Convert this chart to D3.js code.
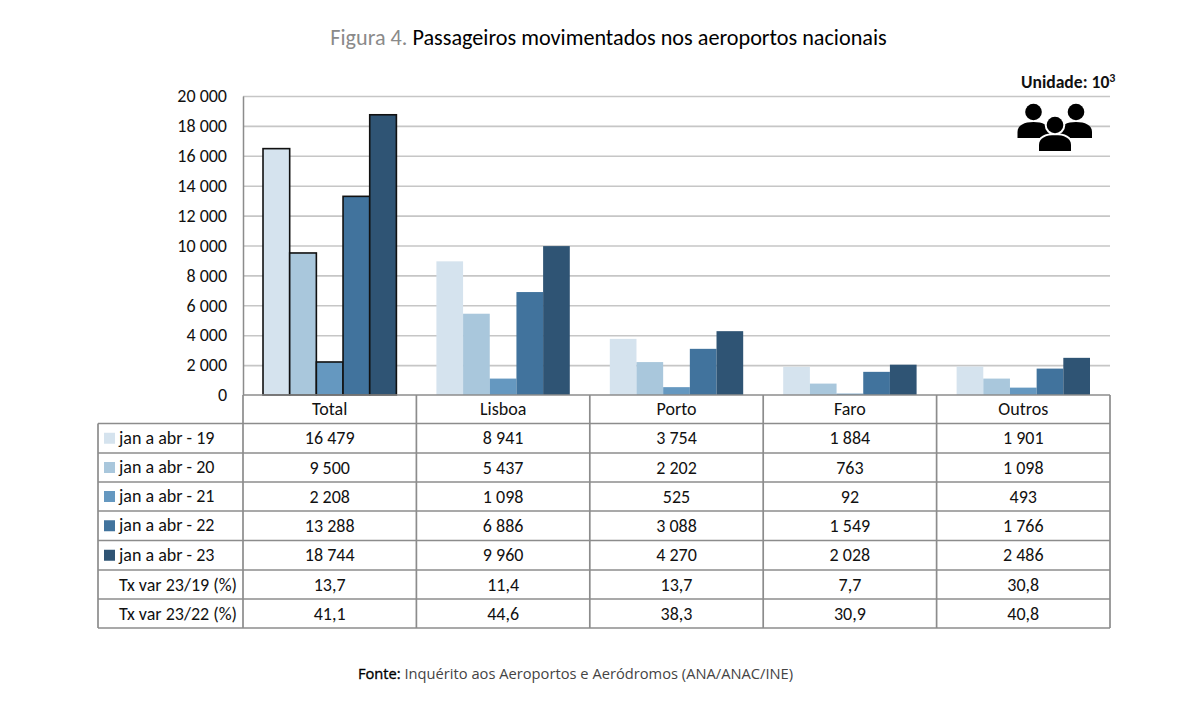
<!DOCTYPE html>
<html><head><meta charset="utf-8">
<script src="https://cdn.jsdelivr.net/npm/d3@7/dist/d3.min.js"></script>
<style>html,body{margin:0;padding:0;background:#fff}svg{display:block}text{font-family:Carlito,Lato,"Open Sans",sans-serif}</style>
</head><body><svg id="c" width="1200" height="713"></svg>
<script>
const categories = ["Total","Lisboa","Porto","Faro","Outros"];
const seriesNames = ["jan a abr - 19","jan a abr - 20","jan a abr - 21","jan a abr - 22","jan a abr - 23"];
const v19 = [16479,8941,3754,1884,1901];
const v20 = [9500,5437,2202,763,1098];
const v21 = [2208,1098,525,92,493];
const v22 = [13288,6886,3088,1549,1766];
const v23 = [18744,9960,4270,2028,2486];
const seriesValues = [v19,v20,v21,v22,v23];
const colors = ["#d5e3ee","#a9c7dc","#6598c0","#41739d","#2f5474"];
const rateNames = ["Tx var 23/19 (%)","Tx var 23/22 (%)"];
const rate1 = ["13,7","11,4","13,7","7,7","30,8"];
const rate2 = ["41,1","44,6","38,3","30,9","40,8"];
const yTicks = [0,2000,4000,6000,8000,10000,12000,14000,16000,18000,20000];

const fmt = n => String(n).replace(/\B(?=(\d{3})+$)/g," ");
const svg = d3.select("#c");
const L=243,R=1110,T=96,B=395,TL=98;
const rowY=[395,423.5,453,482,511,540.5,570,599,628];
const grid="#c6c6c6", tbl="#8c8c8c", ink="#111";

const y=d3.scaleLinear().domain([0,20000]).range([B,T]);
const x0=d3.scaleBand().domain(categories).range([L,R]).padding(0);
const x1=d3.scaleBand().domain(seriesNames).range([0,x0.bandwidth()]).paddingInner(0).paddingOuter(0.75);

// title
const t=svg.append("text").attr("x",608.5).attr("y",45).attr("text-anchor","middle").attr("font-size",22.2);
t.append("tspan").attr("fill","#8a8a8a").text("Figura 4. ");
t.append("tspan").attr("fill","#000").text("Passageiros movimentados nos aeroportos nacionais");

// grid
svg.append("g").selectAll("line").data(yTicks.filter(d=>d>0)).join("line")
 .attr("x1",L).attr("x2",R).attr("y1",d=>y(d)+.5).attr("y2",d=>y(d)+.5)
 .attr("stroke",grid).attr("stroke-width",1.6);

// y axis
const ax=svg.append("g").attr("transform",`translate(${L},0)`)
 .call(d3.axisLeft(y).tickValues(yTicks).tickFormat(fmt).tickSize(0).tickPadding(16));
ax.select(".domain").attr("stroke",tbl).attr("stroke-width",1.5);
ax.selectAll("text").attr("font-size",18).attr("fill",ink).style("font-family","Carlito,Lato,sans-serif");

// bars
svg.append("g").selectAll("g").data(seriesNames).join("g").each(function(s,si){
  d3.select(this).selectAll("rect").data(seriesValues[si]).join("rect")
   .attr("x",(d,i)=>x0(categories[i])+x1(s))
   .attr("width",x1.bandwidth())
   .attr("y",d=>y(d)).attr("height",d=>B-y(d))
   .attr("fill",colors[si])
   .attr("stroke",(d,i)=>i===0?"#111":"none")
   .attr("stroke-width",1.6);
});

// table lines
const g=svg.append("g").attr("stroke",tbl).attr("stroke-width",1.7).attr("fill","none");
rowY.forEach((ry,i)=>g.append("line").attr("x1",i===0?L:TL).attr("x2",R).attr("y1",ry).attr("y2",ry));
g.append("line").attr("x1",TL).attr("x2",TL).attr("y1",rowY[1]).attr("y2",rowY[8]);
[...categories.map(c=>x0(c)),R].forEach(xx=>g.append("line").attr("x1",xx).attr("x2",xx).attr("y1",B).attr("y2",rowY[8]));

// table text
const mid=i=>(rowY[i]+rowY[i+1])/2;
const cell=(xx,yy,s,anchor="middle")=>svg.append("text").attr("x",xx).attr("y",yy).attr("dy","0.34em").attr("text-anchor",anchor).attr("font-size",18).attr("fill",ink).text(s);
categories.forEach(c=>cell(x0(c)+x0.bandwidth()/2,mid(0),c));
seriesNames.forEach((s,si)=>{
  svg.append("rect").attr("x",104).attr("y",mid(si+1)-5.5).attr("width",11).attr("height",11).attr("fill",colors[si]);
  cell(119,mid(si+1)-.5,s,"start");
  seriesValues[si].forEach((d,i)=>cell(x0(categories[i])+x0.bandwidth()/2,mid(si+1),fmt(d)));
});
[rate1,rate2].forEach((r,ri)=>{
  cell(119,mid(6+ri),rateNames[ri],"start");
  r.forEach((d,i)=>cell(x0(categories[i])+x0.bandwidth()/2,mid(6+ri),d));
});

// unit
const u=svg.append("text").attr("x",1021).attr("y",88).attr("font-size",17.6).attr("font-weight",700).attr("fill","#111");
u.append("tspan").text("Unidade: 10");
u.append("tspan").attr("dy",-6).attr("font-size",12).text("3");

// people icon
const person=(cx,cy,halo)=>{
  const p=svg.append("g").attr("transform",`translate(${cx},${cy})`);
  const body="M-16,26 L-16,20 C-16,13 -9,10 0,10 C9,10 16,13 16,20 L16,26 Z";
  const st=halo?"#fff":"none";
  p.append("path").attr("d",body).attr("fill","#000").attr("stroke",st).attr("stroke-width",4).attr("paint-order","stroke");
  p.append("circle").attr("r",8.3).attr("fill","#000").attr("stroke",st).attr("stroke-width",4).attr("paint-order","stroke");
};
person(1033.5,112,false);
person(1076,112,false);
person(1055,125,true);

// source
const f=svg.append("text").attr("x",575.5).attr("y",679).attr("text-anchor","middle").attr("font-size",14.7).style("font-family","'Open Sans',sans-serif");
f.append("tspan").attr("fill","#000").attr("stroke","#000").attr("stroke-width",.35).text("Fonte: ");
f.append("tspan").attr("fill","#444").text("Inquérito aos Aeroportos e Aeródromos (ANA/ANAC/INE)");
</script></body></html>
